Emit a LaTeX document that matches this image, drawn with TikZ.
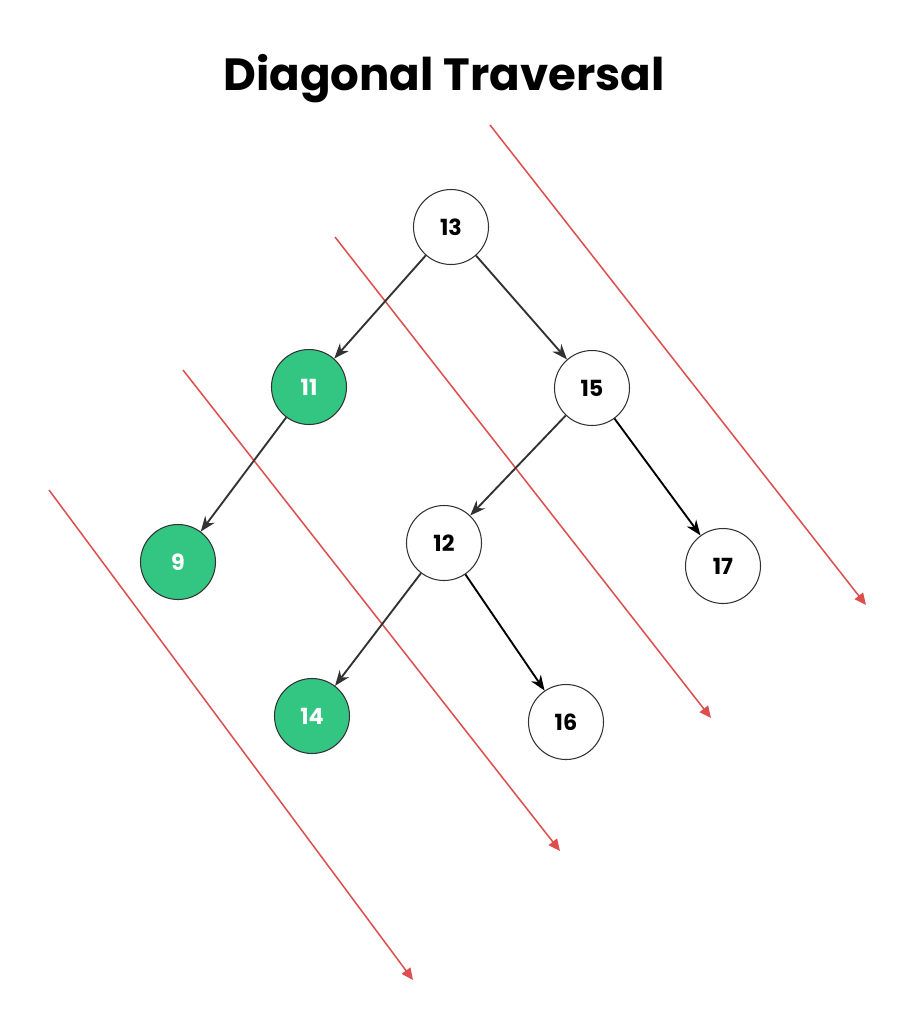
\documentclass[tikz,border=0pt]{standalone}
\usepackage{fontspec}
\setmainfont{Poppins}
\usetikzlibrary{arrows.meta}
\definecolor{nodegreen}{RGB}{50,198,130}
\definecolor{diagred}{RGB}{222,78,78}
\definecolor{edgegray}{RGB}{50,50,50}
\begin{document}
\begin{tikzpicture}[x=0.03cm,y=-0.03cm,
  tnode/.style={circle,draw=edgegray,line width=0.9pt,minimum size=2.25cm,inner sep=0pt,font=\fontsize{19}{22}\selectfont\bfseries,fill=white,text=black},
  gnode/.style={tnode,fill=nodegreen,text=white},
  edge/.style={draw=edgegray,line width=1.6pt,-{Stealth[length=13pt,width=10pt]}},
  diag/.style={draw=diagred,line width=1.3pt,-{Triangle[length=10pt,width=9pt]}}]
\useasboundingbox (0,0) rectangle (911,1024);
\node[font=\fontsize{38.5}{46}\selectfont\bfseries] (title) at (444,79) {Diagonal Traversal};
% diagonal lines
\coordinate (d1s) at (490,125); \coordinate (d1e) at (866,605);
\coordinate (d2s) at (335,237); \coordinate (d2e) at (711,718);
\coordinate (d3s) at (183,370); \coordinate (d3e) at (560,851);
\coordinate (d4s) at (49,490); \coordinate (d4e) at (413,980);
\draw[diag] (d1s) -- (d1e);
\draw[diag] (d2s) -- (d2e);
\draw[diag] (d3s) -- (d3e);
\draw[diag] (d4s) -- (d4e);
% nodes
\node[tnode] (n13) at (451,227) {13};
\node[gnode] (n11) at (309,387) {11};
\node[tnode] (n15) at (592,388) {15};
\node[gnode] (n9) at (178,562) {9};
\node[tnode] (n12) at (444,543) {12};
\node[tnode] (n17) at (723,566) {17};
\node[gnode] (n14) at (312,716) {14};
\node[tnode] (n16) at (566,722) {16};
% edges
\draw[edge] (n13) -- (n11);
\draw[edge] (n13) -- (n15);
\draw[edge] (n11) -- (n9);
\draw[edge] (n15) -- (n12);
\draw[edge,draw=black] (n15) -- (n17);
\draw[edge] (n12) -- (n14);
\draw[edge,draw=black] (n12) -- (n16);
\end{tikzpicture}
\end{document}
